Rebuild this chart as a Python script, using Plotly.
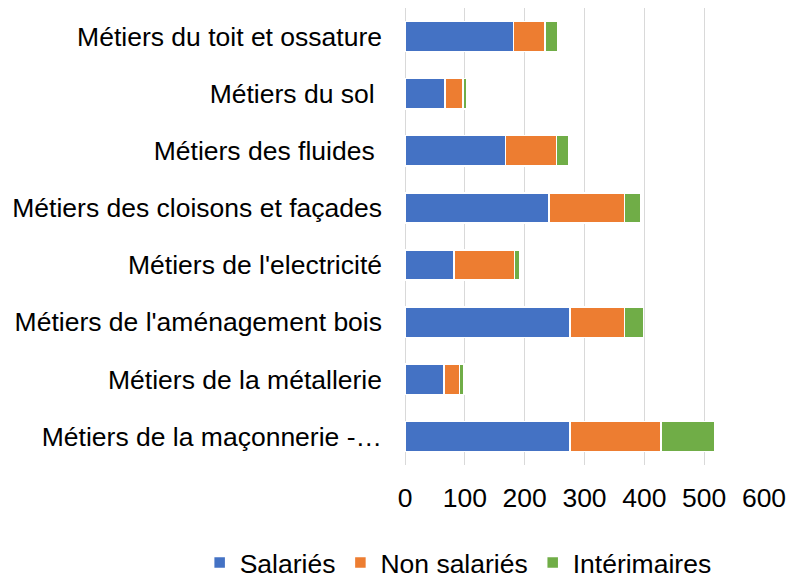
import plotly.graph_objects as go

categories = [
    "Métiers du toit et ossature",
    "Métiers du sol ",
    "Métiers des fluides ",
    "Métiers des cloisons et façades",
    "Métiers de l'electricité",
    "Métiers de l'aménagement bois",
    "Métiers de la métallerie",
    "Métiers de la maçonnerie -…",
]
salaries = [181, 67, 168, 241, 82, 276, 65, 276]
non_salaries = [53, 30, 85, 126, 101, 91, 26, 152]
interimaires = [21, 7, 20, 27, 9, 32, 8, 89]

series = [
    ("Salariés", salaries, "#4472C4"),
    ("Non salariés", non_salaries, "#ED7D31"),
    ("Intérimaires", interimaires, "#70AD47"),
]

fig = go.Figure()
for name, vals, color in series:
    fig.add_trace(go.Bar(
        y=categories, x=vals, name=name, orientation="h",
        marker=dict(color=color, line=dict(color="white", width=1.5)),
    ))

font = "Liberation Sans, Arial, sans-serif"
fs = 26.5
fig.update_layout(
    width=789, height=575,
    barmode="stack", bargap=0.47,
    paper_bgcolor="white", plot_bgcolor="white",
    margin=dict(l=405, r=25, t=8, b=110, autoexpand=False),
    font=dict(family=font, size=fs, color="#000000"),
    showlegend=True,
    legend=dict(orientation="h", x=-0.572, xanchor="left", y=-0.214, yanchor="middle",
                font=dict(size=fs), itemwidth=30, traceorder="normal"),
    xaxis=dict(range=[0, 600], dtick=100, showgrid=True, gridcolor="#d9d9d9", gridwidth=1.3,
               zeroline=True, zerolinecolor="#d9d9d9", zerolinewidth=1.3,
               showline=False, ticks="", ticklabelstandoff=14,
               tickfont=dict(size=fs)),
    yaxis=dict(autorange="reversed", categoryorder="array", categoryarray=categories,
               showgrid=False, showline=False, ticks="", ticklabelstandoff=22,
               tickfont=dict(size=fs)),
)

fig.write_html("out.html", config={"displayModeBar": False},
               post_script="document.body.style.margin='0';")
